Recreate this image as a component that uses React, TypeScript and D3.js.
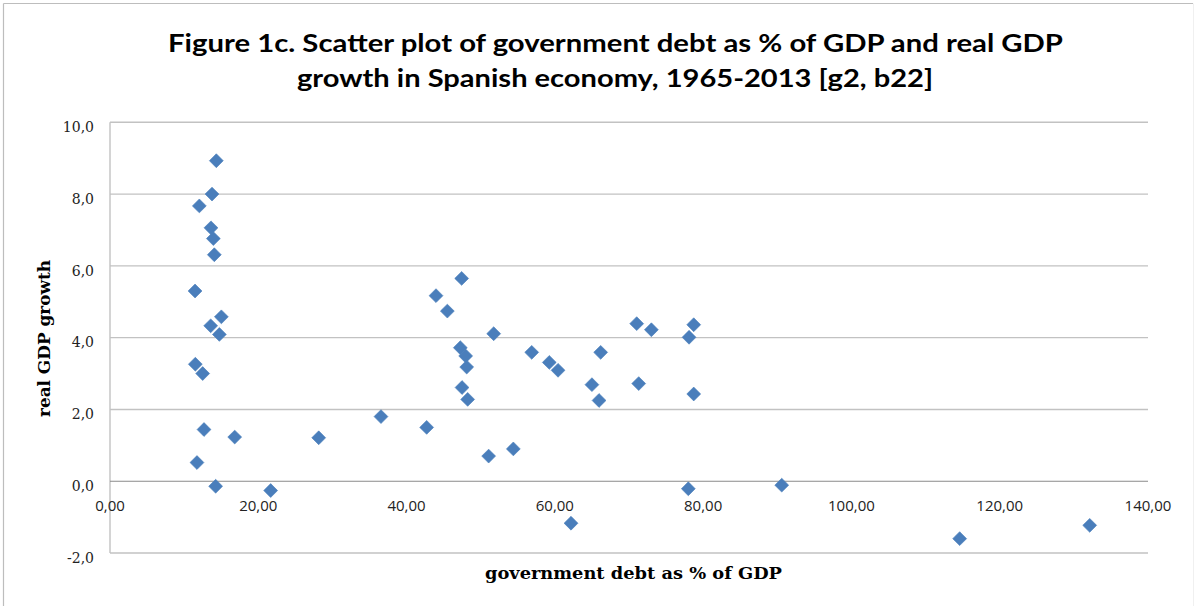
import React from "react";
import * as d3 from "d3";

// Spain, 1965-2013: government debt (% of GDP) vs real GDP growth (%)
const debtPct: number[] = [
  14.34, 13.76, 12.05, 13.62, 13.94, 14.07, 11.47, 15.02, 13.58, 14.75, 11.51, 12.5,
  12.68, 16.82, 28.15, 11.73, 14.25, 21.67, 36.55, 42.71, 47.43, 43.97, 45.5, 51.75,
  47.25, 47.97, 48.11, 47.48, 48.24, 56.88, 59.25, 60.43, 51.07, 54.4, 66.18, 65.0,
  65.96, 71.04, 73.02, 78.73, 78.1, 71.31, 78.73, 78.0, 90.6, 62.18, 114.6, 132.14,
];
const gdpGrowth: number[] = [
  8.93, 8.0, 7.67, 7.06, 6.76, 6.31, 5.3, 4.58, 4.33, 4.09, 3.26, 3.0,
  1.44, 1.23, 1.21, 0.52, -0.14, -0.26, 1.8, 1.5, 5.65, 5.17, 4.74, 4.11,
  3.72, 3.49, 3.18, 2.61, 2.28, 3.59, 3.31, 3.09, 0.7, 0.9, 3.59, 2.69,
  2.25, 4.39, 4.22, 4.36, 4.01, 2.72, 2.43, -0.21, -0.11, -1.17, -1.6, -1.23,
];
const xTicks: number[] = [0, 20, 40, 60, 80, 100, 120, 140];
const yTicks: number[] = [-2, 0, 2, 4, 6, 8, 10];

const titleLines: string[] = [
  "Figure 1c. Scatter plot of government debt as % of GDP and real GDP",
  "growth in Spanish economy, 1965-2013 [g2, b22]",
];
const xTitle = "government debt as % of GDP";
const yTitle = "real GDP growth";

const W = 1194;
const H = 606;
const plot = { left: 110, right: 1148, top: 122.3, bottom: 553 };

const fmtX = (v: number) => v.toFixed(2).replace(".", ",");
const fmtY = (v: number) => v.toFixed(1).replace(".", ",");

export default function App() {
  const x = d3.scaleLinear().domain([0, 140]).range([plot.left, plot.right]);
  const y = d3.scaleLinear().domain([-2, 10]).range([plot.bottom, plot.top]);
  const diamond = d3.symbol().type(d3.symbolSquare).size(96)() as string;
  const points = debtPct.map((d, i) => ({ d, g: gdpGrowth[i] }));

  return (
    <svg
      width={W}
      height={H}
      viewBox={`0 0 ${W} ${H}`}
      style={{ position: "absolute", left: 0, top: 0, background: "#fff" }}
    >
      <rect x={0} y={0} width={W} height={H} fill="#fff" />
      {/* chart frame */}
      <line x1={3.5} y1={3.5} x2={1193} y2={3.5} stroke="#bdbdbd" strokeWidth={1.2} />
      <line x1={3.5} y1={3.5} x2={3.5} y2={H} stroke="#bdbdbd" strokeWidth={1.2} />
      <line x1={1193.5} y1={3.5} x2={1193.5} y2={H} stroke="#f0f0f0" strokeWidth={1} />

      {/* title */}
      <g fontFamily="Lato, 'Open Sans', sans-serif" fontWeight={700} fontSize={24} fill="#000">
        <text x={168} y={52} textLength={895} lengthAdjust="spacingAndGlyphs">
          {titleLines[0]}
        </text>
        <text x={297} y={87} textLength={636} lengthAdjust="spacingAndGlyphs">
          {titleLines[1]}
        </text>
      </g>

      {/* horizontal gridlines */}
      {yTicks
        .filter((t) => t !== 0)
        .map((t) => (
          <line
            key={`g${t}`}
            x1={plot.left}
            x2={plot.right}
            y1={y(t)}
            y2={y(t)}
            stroke="#c2c2c2"
            strokeWidth={1.4}
          />
        ))}
      {/* vertical axis */}
      <line x1={plot.left} x2={plot.left} y1={plot.top} y2={plot.bottom} stroke="#c2c2c2" strokeWidth={1.4} />
      {/* horizontal axis at zero */}
      <line x1={plot.left} x2={plot.right} y1={y(0)} y2={y(0)} stroke="#8a8a8a" strokeWidth={1.1} />

      {/* y tick labels */}
      <g fontFamily="'DejaVu Serif', serif" fontSize={14} fill="#222" textAnchor="end">
        {yTicks.map((t) => (
          <text key={`yl${t}`} x={94} y={y(t) + 9.7}>
            {fmtY(t)}
          </text>
        ))}
      </g>

      {/* x tick labels */}
      <g fontFamily="'Open Sans', sans-serif" fontSize={15} fill="#222" textAnchor="middle">
        {xTicks.map((t) => (
          <text key={`xl${t}`} x={x(t)} y={511}>
            {fmtX(t)}
          </text>
        ))}
      </g>

      {/* axis titles */}
      <text
        x={485}
        y={579}
        fontFamily="'DejaVu Serif', serif"
        fontWeight={700}
        fontSize={17}
        textLength={297}
        lengthAdjust="spacingAndGlyphs"
        fill="#000"
      >
        {xTitle}
      </text>
      <text
        transform="translate(49.5,417) rotate(-90)"
        fontFamily="'DejaVu Serif', serif"
        fontWeight={700}
        fontSize={17}
        textLength={157}
        lengthAdjust="spacingAndGlyphs"
        fill="#000"
      >
        {yTitle}
      </text>

      {/* points */}
      <g fill="#4a7ebb" stroke="#4a7ebb" strokeWidth={0.6}>
        {points.map((p, i) => (
          <path
            key={i}
            d={diamond}
            transform={`translate(${x(p.d)},${y(p.g)}) rotate(45)`}
          />
        ))}
      </g>
    </svg>
  );
}
